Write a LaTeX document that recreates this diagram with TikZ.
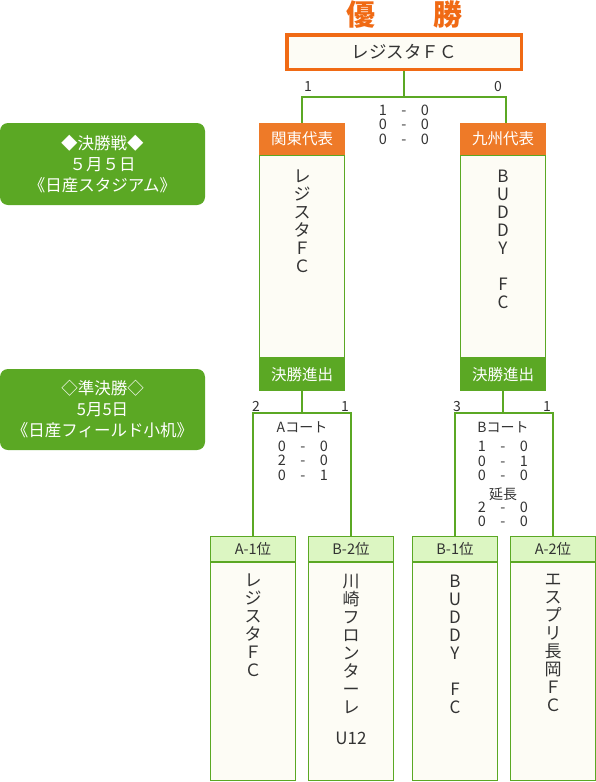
\documentclass[tikz,border=0pt]{standalone}
\usepackage{fontspec}
\setmainfont{Noto Sans CJK JP}
\newcommand\fsz[2]{\fontsize{#1}{#2}\selectfont}
\newcommand\scr[2]{\makebox[21pt]{#1}\makebox[21pt]{-}\makebox[21pt]{#2}}
\definecolor{tgray}{HTML}{333333}
\definecolor{gr}{HTML}{5BA824}
\definecolor{lgr}{HTML}{DCF6C2}
\definecolor{cream}{HTML}{FDFCF5}
\definecolor{org}{HTML}{EE7A28}
\definecolor{torg}{HTML}{F06A14}
\begin{document}
\begin{tikzpicture}[x=1pt,y=-1pt,
  conn/.style={draw=gr, line width=1.2pt},
  txt/.style={text=tgray, inner sep=0pt},
  score/.style={txt, font=\fsz{14.5}{15}},
  label/.style={txt, font=\fsz{14}{15}},
  vtext/.style={txt, font=\fsz{17}{18}, align=center, anchor=north},
  orghead/.style={fill=org, text=white, minimum width=86, minimum height=32, inner sep=0pt, font=\fsz{15.5}{16}},
  grbar/.style={fill=gr, text=white, minimum width=86, minimum height=33, inner sep=0pt, font=\fsz{15.5}{16}},
  colbody/.style={draw=gr, fill=cream, line width=1.2pt, minimum width=84.8, inner sep=0pt},
  lghead/.style={draw=gr, fill=lgr, line width=1.2pt, minimum width=84.8, minimum height=24.8, inner sep=0pt, text=tgray, font=\fsz{14.5}{15}},
  sidebox/.style={fill=gr, rounded corners=8pt, text=white, minimum width=205, inner sep=0pt, align=center, font=\fsz{16.5}{21}}
]
\useasboundingbox (0,0) rectangle (596,782);

% title and champion
\node[text=torg, inner sep=0pt, font=\fsz{29}{30}\bfseries] (title) at (404,15) {優　　勝};
\node[draw=torg, line width=3.5pt, fill=cream, minimum width=234.5, minimum height=34.5, inner sep=0pt, text=tgray, font=\fsz{17.5}{18}] (champ) at (404,52) {レジスタＦＣ};

% side boxes
\node[sidebox, minimum height=82] (finbox) at (102.5,164) {◆決勝戦◆\\５月５日\\《日産スタジアム》};
\node[sidebox, minimum height=81] (semibox) at (102.5,409.5) {◇準決勝◇\\5月5日\\《日産フィールド小机》};

% finalists
\node[colbody, minimum height=203] (kbody) at (302,256.5) {};
\node[colbody, minimum height=203] (qbody) at (503,256.5) {};
\node[orghead] (kanto) at (302,139) {関東代表};
\node[orghead] (kyushu) at (503,139) {九州代表};
\node[grbar] (kbar) at (302,374.5) {決勝進出};
\node[grbar] (qbar) at (503,374.5) {決勝進出};
\node[vtext] (kname) at (302,169.5) {レ\\ジ\\ス\\タ\\Ｆ\\Ｃ};
\node[vtext] (qname) at (503,170) {\vphantom{レ}B\\U\\D\\D\\Y\\ \\F\\C};

% final connectors and scores
\coordinate (jf) at (404,97);
\draw[conn] (champ.south) -- (jf);
\draw[conn] (kanto.north) |- (jf) -| ([xshift=3pt]kyushu.north);
\node[label] (fl) at (308,86.5) {1};
\node[label] (fr) at (498,86.5) {0};
\node[score] (f1) at (404,110) {\scr{1}{0}};
\node[score] (f2) at (404,124.5) {\scr{0}{0}};
\node[score] (f3) at (404,139) {\scr{0}{0}};

% semifinal boxes
\foreach \nm/\x/\hd in {a1/253/A-1位, b2/351/B-2位, b1/455/B-1位, a2/553/A-2位}{
  \node[colbody, minimum height=217.8] (\nm b) at (\x,671.5) {};
  \node[lghead] (\nm h) at (\x,549) {\hd};
}
\node[vtext] (a1n) at (253,573.5) {レ\\ジ\\ス\\タ\\Ｆ\\Ｃ};
\node[vtext] (b2n) at (351,573.5) {川\\崎\\フ\\ロ\\ン\\タ\\ー\\レ\\[13pt]U12};
\node[vtext] (b1n) at (455,575) {\vphantom{レ}B\\U\\D\\D\\Y\\ \\F\\C};
\node[vtext] (a2n) at (553,573.5) {エ\\ス\\プ\\リ\\長\\岡\\Ｆ\\Ｃ};

% semifinal connectors
\coordinate (ja) at (302,413);
\coordinate (jb) at (503,413);
\draw[conn] (kbar.south) -- (ja);
\draw[conn] (a1h.north) |- (ja) -| (b2h.north);
\draw[conn] (qbar.south) -- (jb);
\draw[conn] (b1h.north) |- (jb) -| (a2h.north);

\node[label] (al) at (256,406.5) {2};
\node[label] (ar) at (345,406.5) {1};
\node[label] (bl) at (457,406.5) {3};
\node[label] (br) at (547,406.5) {1};

\node[label] (acourt) at (302,427.5) {Aコート};
\node[score] (a1s) at (303,446) {\scr{0}{0}};
\node[score] (a2s) at (303,460.5) {\scr{2}{0}};
\node[score] (a3s) at (303,475) {\scr{0}{1}};

\node[label] (bcourt) at (503,427.5) {Bコート};
\node[score] (b1s) at (503,446) {\scr{1}{0}};
\node[score] (b2s) at (503,461) {\scr{0}{1}};
\node[score] (b3s) at (503,475) {\scr{0}{0}};
\node[label] (ext) at (503,494.5) {延長};
\node[score] (b4s) at (503,507.5) {\scr{2}{0}};
\node[score] (b5s) at (503,521.5) {\scr{0}{0}};
\end{tikzpicture}
\end{document}
